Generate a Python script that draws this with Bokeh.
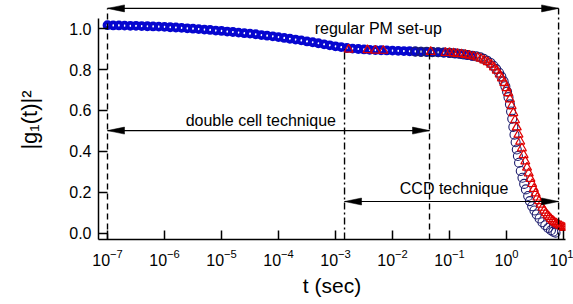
from bokeh.plotting import figure
from bokeh.models import Range1d, FixedTicker
from bokeh.core.properties import value
from bokeh.embed import file_html
from bokeh.resources import INLINE
import math

# ---------------- data (log10 of t in seconds, |g1(t)|^2) ----------------
double_cell_logt = [-7.0, -6.9, -6.8, -6.7, -6.6, -6.5, -6.4, -6.3, -6.2, -6.1,
                    -6.0, -5.9, -5.8, -5.7, -5.6, -5.5, -5.4, -5.3, -5.2, -5.1,
                    -5.0, -4.9, -4.8, -4.7, -4.6, -4.5, -4.4, -4.3, -4.2, -4.1,
                    -4.0, -3.9, -3.8, -3.7, -3.6, -3.5, -3.4, -3.3, -3.2, -3.1,
                    -3.0, -2.9, -2.8, -2.7, -2.6, -2.5, -2.4, -2.3, -2.2, -2.1,
                    -2.0, -1.9, -1.8, -1.7, -1.6, -1.5, -1.4, -1.3, -1.2, -1.1,
                    -1.0, -0.9, -0.8, -0.7, -0.6]
double_cell_g = [1.016, 1.015, 1.015, 1.014, 1.013, 1.013, 1.012, 1.011, 1.010, 1.009,
                 1.008, 1.006, 1.005, 1.003, 1.001, 0.999, 0.997, 0.995, 0.993, 0.990,
                 0.988, 0.985, 0.983, 0.980, 0.977, 0.975, 0.972, 0.968, 0.965, 0.962,
                 0.958, 0.954, 0.950, 0.946, 0.942, 0.937, 0.933, 0.928, 0.923, 0.918,
                 0.913, 0.909, 0.905, 0.902, 0.900, 0.898, 0.896, 0.895, 0.894, 0.893,
                 0.892, 0.891, 0.890, 0.889, 0.888, 0.887, 0.886, 0.885, 0.884, 0.882,
                 0.880, 0.878, 0.875, 0.871, 0.866]

ccd_logt = [-1.60, -1.50, -1.40, -1.30, -1.20, -1.10, -1.00, -0.92, -0.84, -0.76,
            -0.68, -0.60, -0.53, -0.46, -0.40, -0.34, -0.28, -0.23, -0.18, -0.13,
            -0.09, -0.05, -0.02, 0.01, 0.035, 0.06, 0.08, 0.10, 0.12, 0.14,
            0.16, 0.18, 0.20, 0.22, 0.25, 0.28, 0.31, 0.34, 0.38, 0.41,
            0.45, 0.49, 0.53, 0.58, 0.63, 0.68, 0.73, 0.78, 0.82, 0.86]
ccd_g = [0.887, 0.886, 0.886, 0.885, 0.884, 0.883, 0.881, 0.879, 0.877, 0.874,
         0.871, 0.867, 0.864, 0.859, 0.852, 0.843, 0.832, 0.818, 0.802, 0.784,
         0.765, 0.742, 0.718, 0.692, 0.665, 0.630, 0.595, 0.560, 0.520, 0.482,
         0.445, 0.410, 0.378, 0.345, 0.305, 0.272, 0.242, 0.215, 0.183, 0.158,
         0.133, 0.112, 0.093, 0.073, 0.055, 0.040, 0.027, 0.016, 0.009, 0.004]

pm_logt = [-2.77, -2.44, -2.30, -2.16, -1.33, -1.07, -1.00, -0.93, -0.86, -0.79,
           -0.72, -0.65, -0.58, -0.51, -0.45, -0.39, -0.33, -0.27, -0.22, -0.17,
           -0.12, -0.08, -0.04, 0.00, 0.03, 0.06, 0.09, 0.12, 0.15, 0.18,
           0.21, 0.24, 0.27, 0.30, 0.33, 0.36, 0.39, 0.42, 0.45, 0.48,
           0.51, 0.54, 0.57, 0.60, 0.63, 0.66, 0.69, 0.72, 0.75, 0.78,
           0.81, 0.84, 0.87, 0.90, 0.93, 0.96, 0.99, 1.02]
pm_g = [0.897, 0.895, 0.893, 0.892, 0.886, 0.882, 0.881, 0.879, 0.877, 0.875,
        0.872, 0.868, 0.864, 0.859, 0.853, 0.845, 0.836, 0.824, 0.811, 0.795,
        0.776, 0.757, 0.735, 0.710, 0.685, 0.655, 0.622, 0.588, 0.553, 0.518,
        0.483, 0.449, 0.416, 0.383, 0.352, 0.322, 0.294, 0.267, 0.242, 0.218,
        0.196, 0.176, 0.158, 0.141, 0.126, 0.112, 0.100, 0.089, 0.080, 0.071,
        0.063, 0.056, 0.050, 0.045, 0.040, 0.036, 0.032, 0.028]

# boundaries of the measuring windows (t, sec)
dashed_x = [1.0e-7, 4.46e-2]
dashed_top = [1.098, 0.880]
dashdot_x = [1.44e-3, 8.2]
dashdot_top = [0.900, 1.098]

# double-headed range arrows
arrow_x0 = [1.0e-7, 1.0e-7, 1.44e-3]
arrow_x1 = [8.2, 4.46e-2, 8.2]
arrow_y = [1.098, 0.502, 0.156]

label_text = ["regular PM set-up", "double cell technique", "CCD technique"]
label_x = [10 ** -2.25, 10 ** -4.31, 10 ** -0.92]
label_y = [1.000, 0.550, 0.218]

x_ticks = [1e-7, 1e-6, 1e-5, 1e-4, 1e-3, 1e-2, 1e-1, 1e0, 1e1]
y_ticks = [0.0, 0.2, 0.4, 0.6, 0.8, 1.0]

FONT = "Liberation Sans"

# ---------------- figure ----------------
XMIN_LOG, XMAX_LOG = -7.158, 1.035
YMIN, YMAX = -0.0293, 1.1366
p = figure(width=573, height=304, x_axis_type="log",
           x_range=Range1d(10 ** XMIN_LOG, 10 ** XMAX_LOG),
           y_range=Range1d(YMIN, YMAX),
           output_backend="svg", toolbar_location=None,
           min_border_left=98, min_border_right=8, min_border_top=0, min_border_bottom=65)
p.outline_line_color = None
p.grid.visible = False
p.background_fill_color = "white"
p.border_fill_color = "white"

# ---- data ----
p.scatter([10 ** v for v in double_cell_logt], double_cell_g, marker="circle", size=6,
          line_color="#0606cf", line_width=3.8, fill_color=None)
p.scatter([10 ** v for v in ccd_logt], ccd_g, marker="circle", size=9,
          line_color="#1d1d6e", line_width=1.1, fill_color=None)
p.scatter([10 ** v for v in pm_logt], pm_g, marker="triangle", size=9,
          line_color="#e00000", line_width=1.2, fill_color=None)

# ---- window boundaries ----
p.segment(x0=dashed_x, y0=[YMIN] * len(dashed_x), x1=dashed_x, y1=dashed_top,
          line_color="black", line_width=1.4, line_dash="6 4")
p.segment(x0=dashdot_x, y0=[YMIN] * len(dashdot_x), x1=dashdot_x, y1=dashdot_top,
          line_color="black", line_width=1.4, line_dash="7 3 2 3")

# ---- arrows ----
p.segment(x0=arrow_x0, y0=arrow_y, x1=arrow_x1, y1=arrow_y, line_color="black", line_width=1.2)
HEAD_LEN = 17 / 57.0        # decades (57 px per decade)
HEAD_HALF = 3.5 / 205.0     # y units (205 px per unit)
hx, hy = [], []
for x0, x1, y in zip(arrow_x0, arrow_x1, arrow_y):
    l0, l1 = math.log10(x0), math.log10(x1)
    hx.append([x0, 10 ** (l0 + HEAD_LEN), 10 ** (l0 + HEAD_LEN)])
    hy.append([y, y + HEAD_HALF, y - HEAD_HALF])
    hx.append([x1, 10 ** (l1 - HEAD_LEN), 10 ** (l1 - HEAD_LEN)])
    hy.append([y, y + HEAD_HALF, y - HEAD_HALF])
p.patches(hx, hy, fill_color="black", line_color="black", line_width=0.5)

p.text(x=label_x, y=label_y, text=label_text, text_font=value(FONT), text_font_size="16px",
       text_align="center", text_baseline="alphabetic", text_color="black")

# ---- axes ----
p.xaxis.ticker = FixedTicker(ticks=x_ticks)
p.yaxis.ticker = FixedTicker(ticks=y_ticks)
p.yaxis.bounds = (YMIN, 1.05)
for ax in (p.xaxis[0], p.yaxis[0]):
    ax.axis_line_color = "black"
    ax.axis_line_width = 1.5
    ax.major_tick_line_color = "black"
    ax.major_tick_line_width = 1.5
    ax.major_tick_in = 9
    ax.major_tick_out = 0
    ax.minor_tick_line_color = None
    ax.major_label_text_font = FONT
    ax.major_label_text_font_size = "16px"
    ax.major_label_text_color = "black"
    ax.axis_label_text_font = FONT
    ax.axis_label_text_font_style = "normal"
    ax.axis_label_text_color = "black"
p.yaxis.major_label_overrides = {0.0: "0.0", 0.2: "0.2", 0.4: "0.4", 0.6: "0.6", 0.8: "0.8", 1.0: "1.0"}
p.yaxis.major_label_standoff = 7
p.xaxis.major_label_standoff = 9
p.xaxis.axis_label = "t (sec)"
p.xaxis.axis_label_text_font_size = "21px"
p.xaxis.axis_label_standoff = 5
p.yaxis.axis_label = "|g\u2081(t)|\u00b2"
p.yaxis.axis_label_text_font_size = "22px"
p.yaxis.axis_label_standoff = 24

open("out.html", "w").write(file_html(p, INLINE))
